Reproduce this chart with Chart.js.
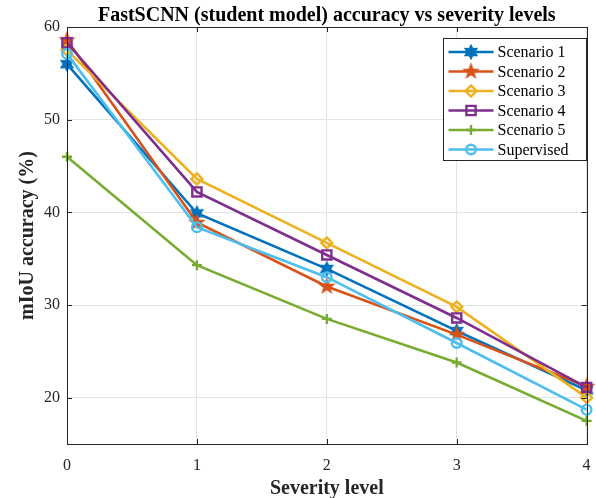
<!DOCTYPE html>
<html>
<head>
<meta charset="utf-8">
<script src="https://cdn.jsdelivr.net/npm/chart.js@4/dist/chart.umd.min.js"></script>
<style>
  body { margin: 0; background: #fff; }
  #wrap { width: 596px; height: 498px; }
</style>
</head>
<body>
<div id="wrap"><canvas id="chart-severity" width="596" height="498"></canvas></div>
<script>
// severity levels on the x axis
var levels = ['0', '1', '2', '3', '4'];
var yTickValues = [20, 30, 40, 50, 60];

// mIoU accuracy (%) per scenario
var scenario1 = [56.0, 39.9, 33.9, 27.2, 20.8];
var scenario2 = [58.6, 38.9, 32.0, 26.8, 21.2];
var scenario3 = [57.5, 43.6, 36.7, 29.8, 20.0];
var scenario4 = [58.3, 42.2, 35.4, 28.6, 21.1];
var scenario5 = [46.0, 34.3, 28.5, 23.8, 17.5];
var supervised = [57.1, 38.4, 33.0, 25.9, 18.7];

var seriesNames = ['Scenario 1', 'Scenario 2', 'Scenario 3', 'Scenario 4', 'Scenario 5', 'Supervised'];

var serif = "'Liberation Serif', 'Times New Roman', serif";
var axisColor = '#262626';

// filled star markers (matlab 'h' and 'p')
function starMarker(n, color, outerR, innerR) {
    var s = Math.ceil(outerR * 2 + 4);
    var c = document.createElement('canvas');
    c.width = s; c.height = s;
    var g = c.getContext('2d');
    g.translate(s / 2, s / 2);
    g.beginPath();
    for (var i = 0; i < 2 * n; i++) {
        var r = (i % 2) ? innerR : outerR;
        var a = -Math.PI / 2 + i * Math.PI / n;
        g.lineTo(r * Math.cos(a), r * Math.sin(a));
    }
    g.closePath();
    g.fillStyle = color;
    g.fill();
    g.strokeStyle = color;
    g.lineWidth = 1.2;
    g.stroke();
    return c;
}

var colors = ['#0072BD', '#D95319', '#EDB120', '#7E2F8E', '#77AC30', '#4DBEEE'];
var hexStar = starMarker(6, colors[0], 7, 3.8);
var pentStar = starMarker(5, colors[1], 7.5, 3.1);

function makeSet(i, values, style, radius) {
    return {
        label: seriesNames[i],
        data: values,
        borderColor: colors[i],
        backgroundColor: 'rgba(0,0,0,0)',
        pointBorderColor: colors[i],
        pointBackgroundColor: 'rgba(0,0,0,0)',
        borderWidth: 2.6,
        pointBorderWidth: 2.4,
        pointStyle: style,
        pointRadius: radius,
        fill: false,
        tension: 0,
        order: 6 - i
    };
}

var datasets = [
    makeSet(0, scenario1, hexStar, 7),
    makeSet(1, scenario2, pentStar, 7),
    makeSet(2, scenario3, 'rectRot', 5.5),
    makeSet(3, scenario4, 'rect', 6.5),
    makeSet(4, scenario5, 'cross', 5),
    makeSet(5, supervised, 'circle', 4.8)
];

// box, inward ticks and a legend inside the axes like matlab
var matlabAxes = {
    id: 'matlabAxes',
    afterDatasetsDraw: function(chart) {
        var ctx = chart.ctx, a = chart.chartArea;
        var xs = chart.scales.x, ys = chart.scales.y;
        ctx.save();
        ctx.strokeStyle = axisColor;
        ctx.lineWidth = 1;
        ctx.beginPath();
        xs.ticks.forEach(function(t, i) {
            var px = Math.round(xs.getPixelForTick(i)) + 0.5;
            ctx.moveTo(px, a.bottom); ctx.lineTo(px, a.bottom - 5);
            ctx.moveTo(px, a.top); ctx.lineTo(px, a.top + 5);
        });
        ys.ticks.forEach(function(t) {
            var py = Math.round(ys.getPixelForValue(t.value)) + 0.5;
            ctx.moveTo(a.left, py); ctx.lineTo(a.left + 5, py);
            ctx.moveTo(a.right, py); ctx.lineTo(a.right - 5, py);
        });
        ctx.stroke();
        ctx.strokeRect(Math.round(a.left) + 0.5, Math.round(a.top) + 0.5,
            Math.round(a.right - a.left), Math.round(a.bottom - a.top));

        // legend, anchored to the top right of the axes
        var bw = 143, bh = 122;
        var bx = Math.round(a.right) - bw - 0.5, by = 38.5;
        ctx.fillStyle = '#fff';
        ctx.fillRect(bx, by, bw, bh);
        ctx.strokeRect(bx, by, bw, bh);
        ctx.font = '16px ' + serif;
        ctx.textBaseline = 'middle';
        ctx.textAlign = 'left';
        chart.data.datasets.forEach(function(ds, i) {
            var y = 52 + i * 19.5;
            ctx.strokeStyle = ds.borderColor;
            ctx.lineWidth = ds.borderWidth;
            ctx.beginPath();
            ctx.moveTo(bx + 5, y); ctx.lineTo(bx + 50, y);
            ctx.stroke();
            ctx.lineWidth = ds.pointBorderWidth;
            ctx.fillStyle = ds.pointBackgroundColor;
            Chart.helpers.drawPoint(ctx, {
                pointStyle: ds.pointStyle,
                radius: ds.pointRadius,
                rotation: 0,
                borderWidth: ds.pointBorderWidth
            }, bx + 27.5, y);
            ctx.fillStyle = '#000';
            ctx.fillText(ds.label, bx + 54, y + 1);
        });
        ctx.restore();
    }
};

var config = {
    type: 'line',
    data: {
        labels: levels,
        datasets: datasets
    },
    options: {
        responsive: false,
        animation: false,
        layout: { padding: 0 },
        plugins: {
            legend: { display: false },
            tooltip: { enabled: false },
            title: {
                display: true,
                fullSize: false,
                text: 'FastSCNN (student model) accuracy vs severity levels',
                color: '#000',
                font: { family: serif, size: 20, weight: 'bold', lineHeight: 1.2 },
                padding: { top: 4, bottom: -1 }
            }
        },
        scales: {
            x: {
                offset: false,
                grid: { color: '#e3e3e3', drawTicks: false },
                border: { color: axisColor },
                ticks: { color: axisColor, font: { family: serif, size: 16 }, padding: 12, maxRotation: 0 },
                title: {
                    display: true,
                    text: 'Severity level',
                    color: '#262626',
                    font: { family: serif, size: 20, weight: 'bold', lineHeight: 1.2 },
                    padding: { top: 0, bottom: -3 }
                },
                afterFit: function(scale) {
                    scale.height = 54;
                    scale.paddingLeft = 0;
                    scale.paddingRight = 8;
                }
            },
            y: {
                min: 15,
                max: 60,
                grid: { color: '#e3e3e3', drawTicks: false },
                border: { color: axisColor },
                ticks: { color: axisColor, font: { family: serif, size: 16 }, padding: 7 },
                afterBuildTicks: function(scale) {
                    scale.ticks = yTickValues.map(function(v) { return { value: v }; });
                },
                title: {
                    display: true,
                    text: 'mIoU accuracy (%)',
                    color: '#262626',
                    font: { family: serif, size: 20, weight: 'bold', lineHeight: 1.2 },
                    padding: { top: 16, bottom: 0 }
                },
                afterFit: function(scale) {
                    scale.width = 67;
                    scale.paddingTop = 0;
                    scale.paddingBottom = 0;
                }
            }
        }
    },
    plugins: [matlabAxes]
};

var ctx = document.getElementById('chart-severity').getContext('2d');
new Chart(ctx, config);
</script>
</body>
</html>
